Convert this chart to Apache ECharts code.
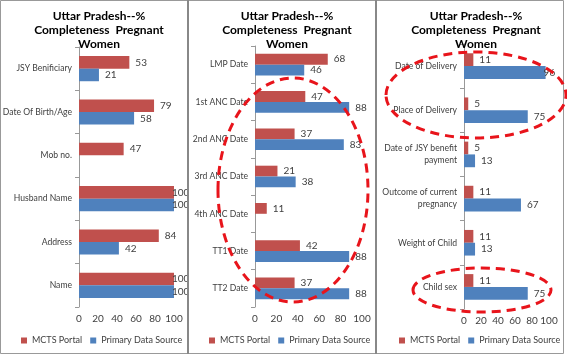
<!DOCTYPE html>
<html>
<head>
<meta charset="utf-8">
<script src="https://cdn.jsdelivr.net/npm/echarts@6/dist/echarts.min.js"></script>
<style>
  html, body { margin: 0; padding: 0; background: #fff; }
  #chart { width: 567px; height: 358px; }
</style>
</head>
<body>
<div id="chart"></div>
<script>
// 数据：三个面板，从上到下
const p1Cats = ['JSY Benificiary', 'Date Of Birth/Age', 'Mob no.', 'Husband Name', 'Address', 'Name'];
const p1Mcts = [53, 79, 47, 100, 84, 100];
const p1Primary = [21, 58, null, 100, 42, 100];

const p2Cats = ['LMP Date', '1st ANC Date', '2nd ANC Date', '3rd ANC Date', '4th ANC Date', 'TT1 Date', 'TT2 Date'];
const p2Mcts = [68, 47, 37, 21, 11, 42, 37];
const p2Primary = [46, 88, 83, 38, null, 88, 88];

const p3Cats = ['Date of Delivery', 'Place of Delivery', 'Date of JSY benefit\npayment', 'Outcome of current\npregnancy', 'Weight of Child', 'Child sex'];
const p3Mcts = [11, 5, 5, 11, 11, 11];
const p3Primary = [96, 75, 13, 67, 13, 75];

const xTicks = [0, 20, 40, 60, 80, 100];

const FONT = "Lato, 'Liberation Sans', sans-serif";
const RED = '#C0504D';
const BLUE = '#4F81BD';
const TXT = '#404040';

(function () {
  const chart = echarts.init(document.getElementById('chart'));

  const panels = [
    { cats: p1Cats, mcts: p1Mcts, prim: p1Primary, grid: { left: 79, width: 95, top: 47, height: 260 }, cx: 94, legendLeft: 21 },
    { cats: p2Cats, mcts: p2Mcts, prim: p2Primary, grid: { left: 255, width: 107, top: 46, height: 261 }, cx: 282, legendLeft: 209 },
    { cats: p3Cats, mcts: p3Mcts, prim: p3Primary, grid: { left: 464, width: 85, top: 44, height: 265 }, cx: 471, legendLeft: 399 }
  ];

  // 接近轴末端的标签往回挪一点
  function withLabels(arr) {
    return arr.map(function (v) {
      if (v !== null && v >= 95) return { value: v, label: { offset: [-8, 0] } };
      return v;
    });
  }

  const option = {
    animation: false,
    backgroundColor: '#fff',
    textStyle: { fontFamily: FONT },
    title: [], legend: [], grid: [], xAxis: [], yAxis: [], series: [],
    graphic: []
  };

  panels.forEach(function (p, i) {
    option.title.push({
      text: 'Uttar Pradesh--%\nCompleteness  Pregnant\nWomen',
      left: p.cx, top: 4, textAlign: 'center',
      textStyle: { fontFamily: FONT, fontSize: 12, fontWeight: 'bold', color: '#000', lineHeight: 14 }
    });
    option.legend.push({
      data: ['MCTS Portal', 'Primary Data Source'],
      left: p.legendLeft, top: 336, padding: 0,
      icon: 'rect', itemWidth: 6, itemHeight: 6, itemGap: 8,
      selectedMode: false,
      textStyle: { fontFamily: FONT, fontSize: 9, color: TXT }
    });
    option.grid.push(Object.assign({ outerBoundsMode: 'none', containLabel: false }, p.grid));
    option.xAxis.push({
      gridIndex: i, type: 'value', min: 0, max: 100, interval: 20,
      axisLine: { show: false }, axisTick: { show: false }, splitLine: { show: false },
      axisLabel: {
        color: TXT, fontSize: 10, fontFamily: FONT, margin: 7,
        showMinLabel: true, showMaxLabel: true, hideOverlap: false,
        formatter: function (v) { return xTicks.indexOf(v) >= 0 ? String(v) : ''; }
      }
    });
    option.yAxis.push({
      gridIndex: i, type: 'category', data: p.cats, inverse: true,
      axisLine: { show: true, lineStyle: { color: '#999' } },
      axisTick: { show: true, length: 4, lineStyle: { color: '#999' } },
      axisLabel: { color: TXT, fontSize: 8.6, fontFamily: FONT, margin: 7, lineHeight: 12 }
    });
    const lbl = { show: true, position: 'right', distance: 6, color: TXT, fontSize: 10, fontFamily: FONT };
    option.series.push({
      name: 'MCTS Portal', type: 'bar', xAxisIndex: i, yAxisIndex: i,
      data: withLabels(p.mcts), itemStyle: { color: RED },
      barGap: '0%', barCategoryGap: '42%', label: lbl
    });
    option.series.push({
      name: 'Primary Data Source', type: 'bar', xAxisIndex: i, yAxisIndex: i,
      data: withLabels(p.prim), itemStyle: { color: BLUE },
      barGap: '0%', barCategoryGap: '42%', label: lbl
    });
  });

  // 外框和分隔线
  option.graphic.push(
    { type: 'rect', shape: { x: 0.5, y: 0.5, width: 563, height: 353 }, style: { fill: null, stroke: '#999', lineWidth: 1 }, z: 100 },
    { type: 'line', shape: { x1: 188, y1: 0, x2: 188, y2: 354 }, style: { stroke: '#888', lineWidth: 2 }, z: 100 },
    { type: 'line', shape: { x1: 376, y1: 0, x2: 376, y2: 354 }, style: { stroke: '#888', lineWidth: 2 }, z: 100 }
  );
  // 红色虚线圈注
  const dash = { fill: null, stroke: '#E8141B', lineWidth: 3, lineDash: [9, 6] };
  option.graphic.push(
    { type: 'ellipse', shape: { cx: 293, cy: 190, rx: 75, ry: 112 }, style: dash, z: 110 },
    { type: 'ellipse', shape: { cx: 476, cy: 95, rx: 90, ry: 43 }, style: dash, z: 110 },
    { type: 'ellipse', shape: { cx: 482, cy: 290, rx: 69, ry: 22 }, style: dash, z: 110 }
  );

  chart.setOption(option);
})();
</script>
</body>
</html>
